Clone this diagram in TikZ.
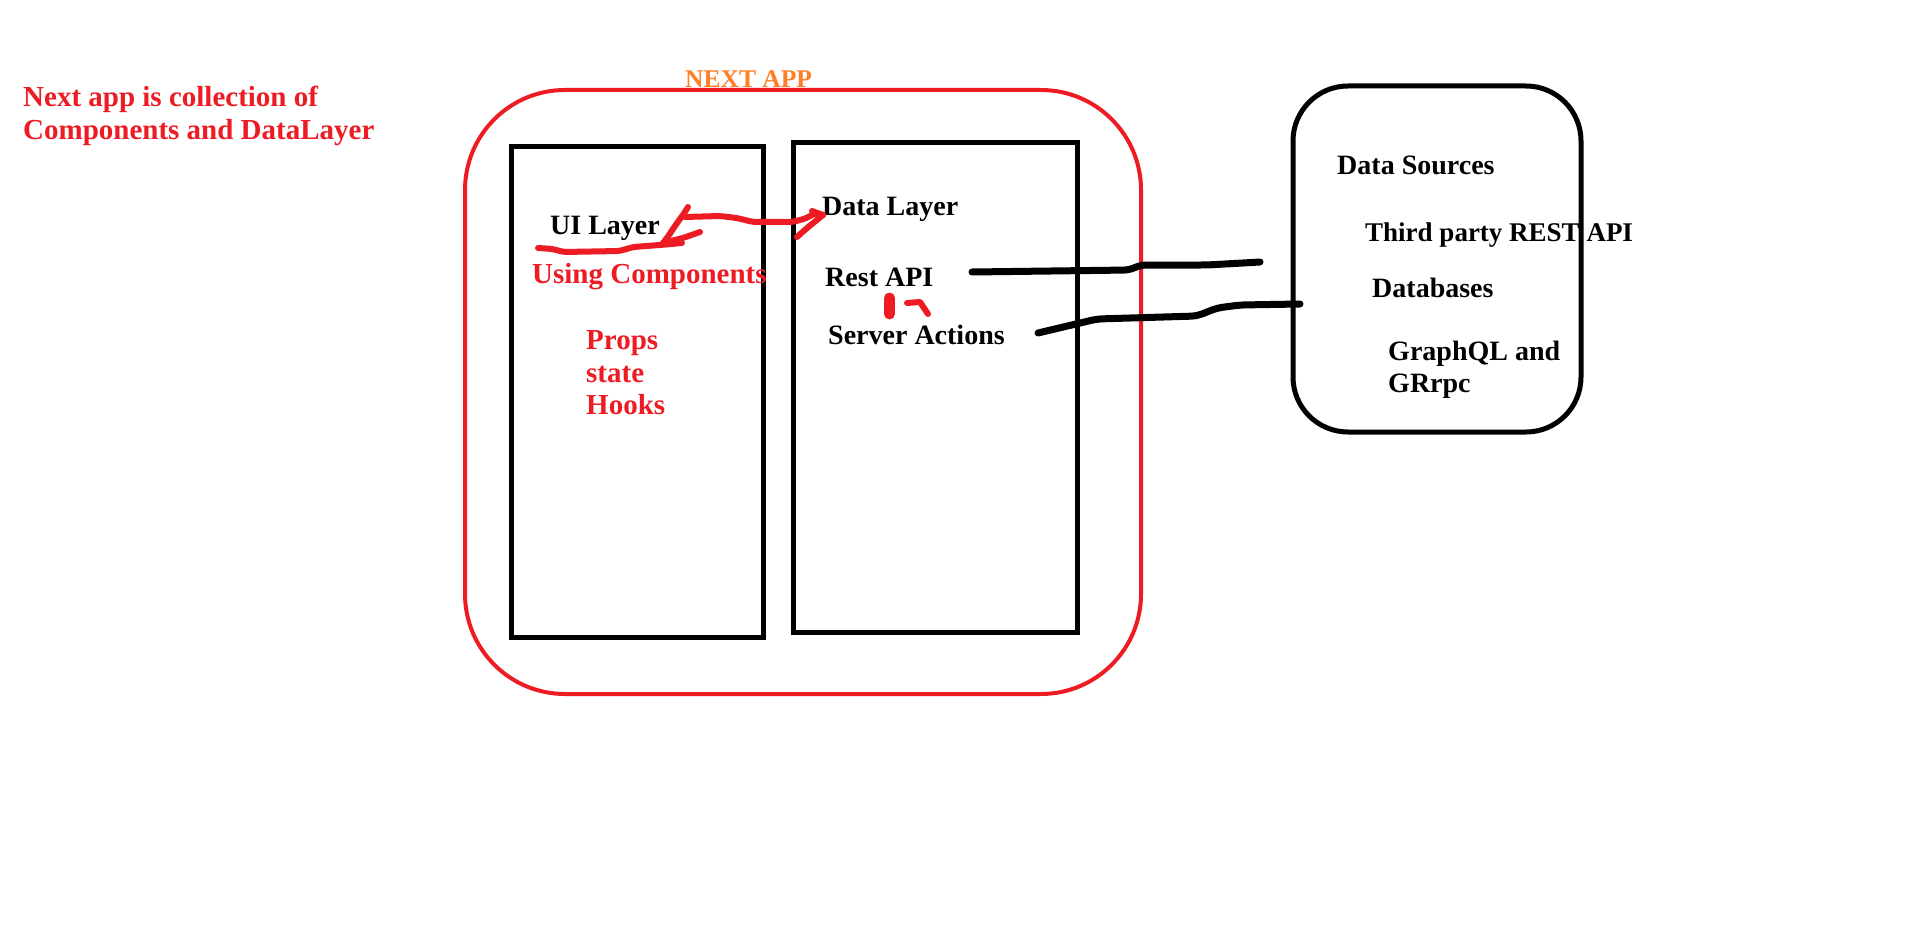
\documentclass[tikz,border=0pt]{standalone}
\usepackage{fontspec}
\setmainfont{Liberation Serif}
\definecolor{pred}{HTML}{ED1C24}
\definecolor{porange}{HTML}{FF7F27}
\begin{document}
\begin{tikzpicture}[x=1pt,y=-1pt,
  btxt/.style={anchor=base west,inner sep=0pt,font=\bfseries\fontsize{28}{33}\selectfont,text=black},
  rtxt/.style={anchor=base west,inner sep=0pt,font=\bfseries\fontsize{29}{33}\selectfont,text=pred},
  otxt/.style={anchor=base west,inner sep=0pt,font=\bfseries\fontsize{25.5}{30}\selectfont,text=porange},
  box/.style={draw=black,line width=5pt,outer sep=0pt,inner sep=0pt,anchor=north west},
  appbox/.style={draw=pred,line width=4pt,rounded corners=100pt,outer sep=0pt,inner sep=0pt,anchor=north west},
  srcbox/.style={draw=black,line width=5pt,rounded corners=55pt,outer sep=0pt,inner sep=0pt,anchor=north west},
  conn/.style={draw=black,line width=7pt,line cap=round,line join=round,rounded corners=6pt},
  redpen/.style={draw=pred,line width=6pt,line cap=round,line join=round,rounded corners=4pt}]
\useasboundingbox[fill=white] (0,0) rectangle (1917,952);

% boxes
\node[appbox,minimum width=676pt,minimum height=604pt] (app) at (465,90) {};
\node[box,minimum width=252pt,minimum height=490pt] (ui) at (511,147) {};
\node[box,minimum width=284pt,minimum height=489pt] (data) at (793,143) {};
\node[srcbox,minimum width=288pt,minimum height=346pt] (src) at (1293,86) {};

% texts
\node[rtxt] (note1) at (23,107) {Next app is collection of};
\node[rtxt] (note2) at (23,140) {Components and DataLayer};
\node[otxt] (apptitle) at (685,88) {NEXT APP};
\node[btxt] (uilayer) at (550,235) {UI Layer};
\node[rtxt] (usingc) at (532,283) {Using Components};
\node[rtxt] (props) at (586,349) {Props};
\node[rtxt] (state) at (586,382) {state};
\node[rtxt] (hooks) at (586,414) {Hooks};
\node[btxt] (datalayer) at (822,216) {Data Layer};
\node[btxt] (restapi) at (825,286) {Rest API};
\node[btxt] (server) at (828,344) {Server Actions};
\node[btxt] (dsrc) at (1337,175) {Data Sources};
\node[btxt,font=\bfseries\fontsize{27}{33}\selectfont] (third) at (1365,242) {Third party REST API};
\node[btxt] (dbs) at (1372,297) {Databases};
\node[btxt] (gql) at (1388,360) {GraphQL and};
\node[btxt] (grpc) at (1388,392) {GRrpc};

% connectors to data sources
\coordinate (ra0) at (972,272);
\coordinate (ra1) at (1260,262);
\draw[conn] (ra0) -- (1130,270) -- (1140,265) -- (1207,265) -- (1243,263) -- (ra1);
\coordinate (sa0) at (1038,333);
\coordinate (sa1) at (1300,304);
\draw[conn] (sa0) -- (1097,319) -- (1197,316) -- (1217,308) -- (1240,305) -- (sa1);

% red hand-drawn arrow between UI layer and data layer
\coordinate (u0) at (538,248);
\coordinate (u1) at (682,243);
\draw[redpen] (u0) -- (553,249) -- (563,252) -- (620,251) -- (633,247) -- (660,245) -- (u1);
\coordinate (h0) at (688,207);
\coordinate (h1) at (663,243);
\draw[redpen] (h0) -- (683,215) -- (677,223) -- (667,238) -- (h1);
\coordinate (h2) at (700,232);
\draw[redpen] (h2) -- (683,238) -- (h1);
\coordinate (m0) at (685,217);
\coordinate (m1) at (823,215);
\draw[redpen] (m0) -- (720,216) -- (737,218) -- (753,222) -- (793,222) -- (807,218) -- (815,213) -- (m1);
\coordinate (m2) at (797,237);
\draw[redpen] (m1) -- (807,228) -- (m2);
\draw[redpen] (812,211) -- (m1);

% red marks between Rest API and Server Actions
\coordinate (k0) at (889.5,298);
\coordinate (k1) at (889.5,314);
\draw[pred,line width=11pt,line cap=round] (k0) -- (k1);
\coordinate (k2) at (907,303);
\coordinate (k3) at (928,314);
\draw[pred,line width=6pt,line cap=round,line join=round] (k2) -- (920,302) -- (k3);
\end{tikzpicture}
\end{document}
